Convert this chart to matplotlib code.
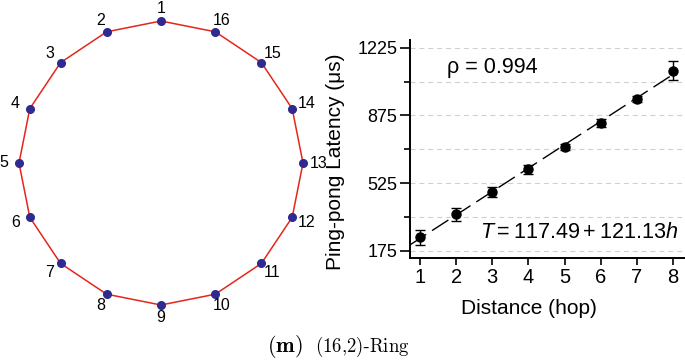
import numpy as np
import matplotlib

matplotlib.use("Agg")
import matplotlib.pyplot as plt

plt.rcParams["font.family"] = ["Liberation Sans", "DejaVu Sans"]
plt.rcParams["mathtext.fontset"] = "custom"
plt.rcParams["mathtext.rm"] = "Liberation Sans"
plt.rcParams["mathtext.it"] = "Liberation Sans:italic"

# ring topology (16 nodes, numbered counter-clockwise from the top)
nodes = list(range(1, 17))

# ping-pong latency vs hop distance
hops = [1, 2, 3, 4, 5, 6, 7, 8]
latency = [244, 363, 480, 596, 713, 834, 960, 1106]
latency_err = [39, 33, 27, 22, 15, 21, 15, 49]
fit_a, fit_b = 117.49, 121.13
rho = 0.994

y_ticks = [175, 525, 875, 1225]
y_minor = [350, 700, 1050]

fig = plt.figure(figsize=(6.85, 3.6), dpi=100)

# --- 왼쪽: 링 토폴로지
axr = fig.add_axes([0, 34 / 360, 322 / 685, 326 / 360])
ang = np.deg2rad(90 + (np.array(nodes) - 1) * 360 / len(nodes))
xs, ys = np.cos(ang), np.sin(ang)
axr.plot(np.append(xs, xs[0]), np.append(ys, ys[0]), color="#e4261c", lw=1.1, zorder=1)
axr.plot(xs, ys, "o", color="#2f2a8f", ms=5.5, zorder=2)
for n, a in zip(nodes, ang):
    # 라벨은 노드 바깥쪽으로 (세로 방향은 조금 덜)
    axr.text(1.11 * np.cos(a), 1.088 * np.sin(a), str(n), ha="center", va="center",
             fontsize=11.5, clip_on=False)
axr.set_xlim(-161 / 142, 161 / 142)
axr.set_ylim(-163 / 142, 163 / 142)
axr.axis("off")

# --- 오른쪽: 지연 시간 산점도
ax = fig.add_axes([410 / 685, 102 / 360, 275 / 685, 218 / 360])
x_line = np.array([0.72, 8.05])
ax.plot(x_line, fit_a + fit_b * x_line, color="black", lw=1.0,
        linestyle=(0, (14, 5)), zorder=2)
ax.errorbar(hops, latency, yerr=latency_err, fmt="o", color="black", ms=6.5,
            capsize=3.5, elinewidth=1, capthick=1, zorder=3)

ax.set_xlim(0.723, 8.332)
ax.set_ylim(137.2, 1264.8)
ax.set_xticks(hops)
ax.set_yticks(y_ticks)
ax.set_yticks(y_minor, minor=True)
ax.grid(True, axis="y", which="both", color="#d0d0d0", lw=0.8,
        linestyle=(0, (4.5, 3.5)), zorder=0)
ax.set_axisbelow(True)
for side in ["top", "right"]:
    ax.spines[side].set_visible(False)
for side in ["left", "bottom"]:
    ax.spines[side].set_linewidth(1.4)
ax.tick_params(axis="y", which="major", length=7, width=1.2, labelsize=13, pad=2)
ax.tick_params(axis="y", which="minor", length=4, width=1.2)
ax.tick_params(axis="x", length=5, width=1.2, labelsize=14.5, pad=2.5)

ax.set_xlabel("Distance (hop)", fontsize=15)
ax.set_ylabel("Ping-pong Latency (μs)", fontsize=15)
ax.xaxis.set_label_coords(0.431, -0.188)
ax.yaxis.set_label_coords(-0.235, 0.443)

ax.text((447 - 410) / 275, (258 - 67) / 218, f"ρ = {rho}", fontsize=15.5,
        ha="left", va="center", transform=ax.transAxes)
ax.text((480 - 410) / 275, (258 - 233) / 218, rf"$T = {fit_a} + {fit_b}h$",
        fontsize=15.6, ha="left", va="center", transform=ax.transAxes, clip_on=False)

# 캡션
fig.text(267 / 685, 8 / 360, r"$\mathbf{(m)}$", fontsize=16, math_fontfamily="cm",
         ha="left", va="baseline")
fig.text(315 / 685, 8 / 360, r"$\mathrm{(16{,}2)}$-$\mathrm{Ring}$", fontsize=13.5,
         family="Liberation Serif", math_fontfamily="cm", ha="left", va="baseline")

fig.savefig("out.png", dpi=100)
plt.close(fig)
